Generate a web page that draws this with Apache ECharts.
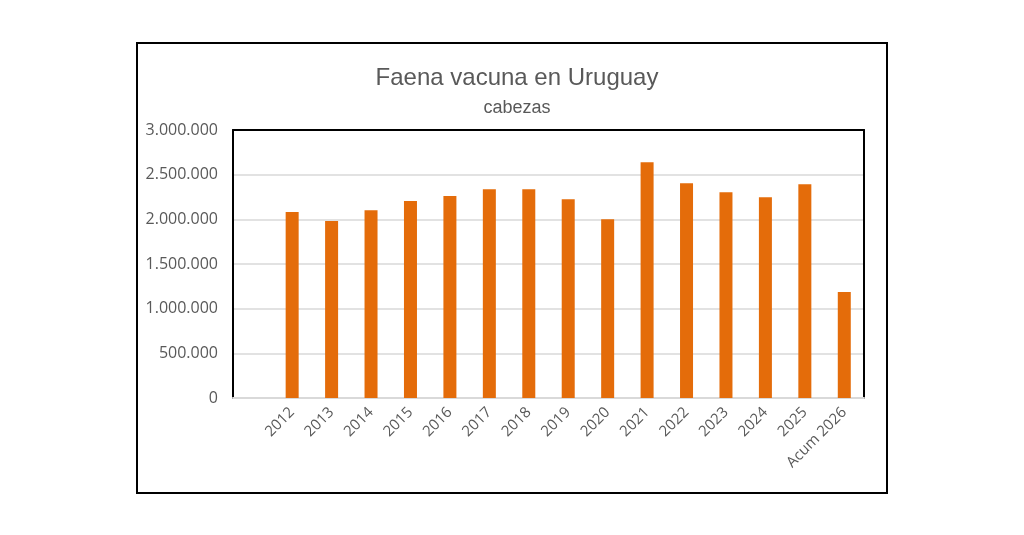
<!DOCTYPE html>
<html>
<head>
<meta charset="utf-8">
<script src="https://cdn.jsdelivr.net/npm/echarts@6/dist/echarts.min.js"></script>
<style>
  html, body { margin: 0; padding: 0; background: #fff; }
  #chart { width: 1024px; height: 535px; }
</style>
</head>
<body>
<div id="chart"></div>
<script>
// datos
var categorias = ['', '2012', '2013', '2014', '2015', '2016', '2017', '2018', '2019',
  '2020', '2021', '2022', '2023', '2024', '2025', 'Acum 2026'];
var cabezas = [null, 2081000, 1980000, 2103000, 2204000, 2262000, 2338000, 2338000, 2226000,
  2002000, 2640000, 2405000, 2304000, 2248000, 2394000, 1186000];
var ticksY = [0, 500000, 1000000, 1500000, 2000000, 2500000, 3000000];

var gris = '#595959';
var myChart = echarts.init(document.getElementById('chart'));

function miles(v) {
  return String(v).replace(/\B(?=(\d{3})+(?!\d))/g, '.');
}

var option = {
  animation: false,
  title: {
    text: 'Faena vacuna en Uruguay',
    subtext: 'cabezas',
    left: 512,
    textAlign: 'center',
    top: 61,
    itemGap: 9,
    textStyle: { fontFamily: 'Liberation Sans', fontSize: 24, fontWeight: 'normal', color: gris },
    subtextStyle: { fontFamily: 'Liberation Sans', fontSize: 18, color: gris }
  },
  graphic: [{
    type: 'rect',
    shape: { x: 137, y: 43, width: 750, height: 450 },
    style: { fill: 'none', stroke: '#000', lineWidth: 2 }
  }],
  grid: { left: 233, right: 160, top: 130, bottom: 137 },
  xAxis: [{
    type: 'category',
    data: categorias,
    axisLine: { onZero: false, lineStyle: { color: '#d9d9d9', width: 2 } },
    axisTick: { show: false },
    axisLabel: {
      rotate: 45, interval: 0, margin: 12,
      fontFamily: 'Open Sans', fontSize: 15, color: gris
    }
  }, {
    type: 'category',
    position: 'top',
    data: categorias,
    axisLine: { onZero: false, lineStyle: { color: '#000', width: 2 } },
    axisTick: { show: false },
    axisLabel: { show: false }
  }],
  yAxis: [{
    type: 'value',
    min: ticksY[0],
    max: ticksY[ticksY.length - 1],
    interval: 500000,
    axisLine: { show: true, onZero: false, lineStyle: { color: '#000', width: 2 } },
    axisTick: { show: false },
    splitLine: { lineStyle: { color: '#d9d9d9', width: 1.5 } },
    axisLabel: {
      margin: 15,
      fontFamily: 'Open Sans', fontSize: 16, color: gris,
      formatter: miles
    }
  }, {
    type: 'value',
    position: 'right',
    min: ticksY[0],
    max: ticksY[ticksY.length - 1],
    interval: 500000,
    axisLine: { show: true, onZero: false, lineStyle: { color: '#000', width: 2 } },
    axisTick: { show: false },
    splitLine: { show: false },
    axisLabel: { show: false }
  }],
  series: [{
    name: 'Faena',
    type: 'bar',
    data: cabezas,
    barWidth: 13,
    itemStyle: { color: '#E46C0A' }
  }]
};
myChart.setOption(option);
</script>
</body>
</html>
